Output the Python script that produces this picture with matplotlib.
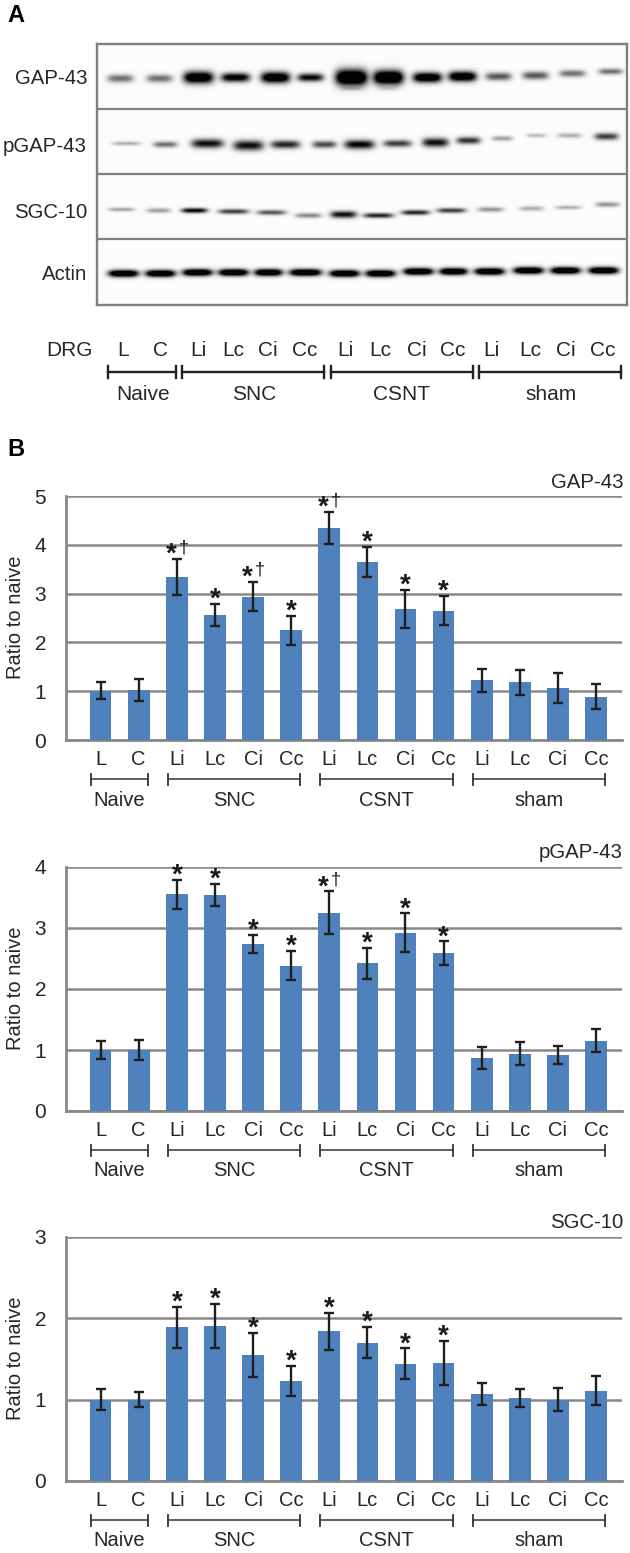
import numpy as np
import matplotlib
matplotlib.use('Agg')
import matplotlib.pyplot as plt

plt.rcParams['font.family'] = ['Liberation Sans', 'DejaVu Sans']

W, H = 630, 1553
GRID = '#888888'
BAR = '#4f81bd'
TXT = '#262626'

# lanes
lanes = ['L', 'C', 'Li', 'Lc', 'Ci', 'Cc', 'Li', 'Lc', 'Ci', 'Cc', 'Li', 'Lc', 'Ci', 'Cc']
groups = ['Naive', 'SNC', 'CSNT', 'sham']
group_first = [0, 2, 6, 10]
group_last = [1, 5, 9, 13]

# densitometry, panel B
gap_mean = [1.01, 1.02, 3.34, 2.56, 2.94, 2.25, 4.34, 3.65, 2.69, 2.65, 1.22, 1.18, 1.06, 0.89]
gap_err = [0.17, 0.23, 0.37, 0.23, 0.30, 0.30, 0.33, 0.31, 0.39, 0.30, 0.23, 0.26, 0.31, 0.26]
gap_sig = ['', '', '*†', '*', '*†', '*', '*†', '*', '*', '*', '', '', '', '']

pgap_mean = [1.00, 1.00, 3.55, 3.54, 2.74, 2.38, 3.25, 2.42, 2.92, 2.59, 0.87, 0.94, 0.92, 1.15]
pgap_err = [0.14, 0.17, 0.24, 0.18, 0.15, 0.24, 0.35, 0.25, 0.32, 0.19, 0.18, 0.19, 0.15, 0.19]
pgap_sig = ['', '', '*', '*', '*', '*', '*†', '*', '*', '*', '', '', '', '']

sgc_mean = [1.00, 1.00, 1.89, 1.91, 1.55, 1.23, 1.84, 1.70, 1.44, 1.45, 1.07, 1.02, 1.00, 1.11]
sgc_err = [0.13, 0.09, 0.25, 0.27, 0.27, 0.19, 0.23, 0.19, 0.19, 0.27, 0.14, 0.11, 0.14, 0.18]
sgc_sig = ['', '', '*', '*', '*', '*', '*', '*', '*', '*', '', '', '', '']

# blot bands, panel A (pixels); the last two GAP-43 entries are the faint lower bands
blot_names = ['GAP-43', 'pGAP-43', 'SGC-10', 'Actin']
gap_band_x = [120, 159, 198, 235, 275, 310, 351, 388, 427, 462, 498, 535, 572, 610, 351, 388]
gap_band_y = [78, 78, 77, 77, 77, 77, 77, 77, 77, 76, 76, 75, 73, 71, 88, 88]
gap_band_i = [.55, .55, 1.3, 1.1, 1.3, 1.0, 1.5, 1.5, 1.3, 1.3, .65, .65, .55, .55, .15, .12]
gap_band_w = [13, 13, 15, 14.5, 14.5, 13, 16, 15, 14.5, 14, 13, 13, 13, 12, 10, 10]
gap_band_h = [4, 4, 6, 4.5, 5.5, 4, 8, 7, 5, 5, 4, 4, 3.5, 3, 2, 2]

pgap_band_x = [126, 165, 207, 248, 285, 324, 359, 397, 435, 468, 502, 536, 569, 606]
pgap_band_y = [143, 144, 143, 145, 144, 144, 144, 143, 142, 140, 138, 135, 135, 136]
pgap_band_i = [.3, .55, .95, .95, .85, .7, 1.0, .75, .95, .8, .35, .25, .3, .75]
pgap_band_w = [14, 12, 16, 15, 14.5, 12, 15, 14, 13, 12, 10.5, 10, 12, 12]
pgap_band_h = [2, 3, 4.5, 5, 4, 3.5, 4.5, 3.5, 4.5, 3.5, 2.5, 2, 2.5, 3.5]

sgc_band_x = [121, 158, 194, 233, 271, 308, 343, 378, 415, 451, 490, 531, 568, 607]
sgc_band_y = [209, 210, 210, 211, 212, 215, 214, 215, 212, 210, 209, 208, 207, 204]
sgc_band_i = [.35, .35, 1.0, .75, .65, .45, .95, .85, .85, .75, .4, .3, .3, .4]
sgc_band_w = [13, 12, 13, 15, 14.5, 13, 13, 15, 14, 14.5, 13, 12, 13, 12]
sgc_band_h = [2, 2.5, 2.5, 2.5, 2.5, 2.5, 3.5, 2.5, 2.5, 2.5, 2.5, 2.5, 2, 2.5]

actin_band_x = [123, 160, 197, 233, 268, 305, 344, 380, 418, 453, 489, 528, 565, 603]
actin_band_y = [273, 273, 272, 272, 272, 272, 273, 273, 271, 271, 271, 270, 270, 270]
actin_band_i = [1.4] * 14
actin_band_w = [15, 15, 15, 15, 14, 16, 15, 15, 15, 14, 15, 15, 15, 15]
actin_band_h = [3.5] * 14

fig = plt.figure(figsize=(W / 100, H / 100), dpi=100)


def px_axes(x0, y0, x1, y1):
    return fig.add_axes([x0 / W, 1 - y1 / H, (x1 - x0) / W, (y1 - y0) / H])


def ftext(x, y, s, **kw):
    kw.setdefault('color', TXT)
    kw.setdefault('va', 'center')
    fig.text(x / W, 1 - y / H, s, **kw)


# ---- panel A
blot = px_axes(97, 44, 627, 305)
xx, yy = np.meshgrid(np.arange(97, 627), np.arange(44, 305))
dens = np.zeros(xx.shape)
bands = [
    (gap_band_x, gap_band_y, gap_band_i, gap_band_w, gap_band_h),
    (pgap_band_x, pgap_band_y, pgap_band_i, pgap_band_w, pgap_band_h),
    (sgc_band_x, sgc_band_y, sgc_band_i, sgc_band_w, sgc_band_h),
    (actin_band_x, actin_band_y, actin_band_i, actin_band_w, actin_band_h),
]
for bx, by, bi, bw, bh in bands:
    for x, y, i, w, h in zip(bx, by, bi, bw, bh):
        dens += i * np.exp(-((xx - x) / w) ** 4) * np.exp(-((yy - y) / h) ** 2)
img = 0.985 - np.clip(dens, 0, 0.97)
blot.imshow(img, cmap='gray', vmin=0, vmax=1, extent=(97, 627, 305, 44), aspect='auto')
blot.set_xticks([])
blot.set_yticks([])
for s in blot.spines.values():
    s.set_color('#808080')
    s.set_linewidth(1.7)
for y in [109, 174, 239]:
    blot.axhline(y, color='#808080', lw=1.6)

for name, y in zip(blot_names, [79, 147, 213, 274]):
    ftext(87, y, name, ha='right', fontsize=14.7)

ftext(16, 15, 'A', ha='center', fontsize=17, fontweight='bold', color='black')
ftext(16, 449, 'B', ha='center', fontsize=17, fontweight='bold', color='black')

lane_x = [123, 160, 198, 233, 268, 305, 345, 380, 417, 453, 491, 530, 566, 603]
ftext(69, 351, 'DRG', ha='center', fontsize=15)
for x, s in zip(lane_x, lanes):
    ftext(x, 351, s, ha='center', fontsize=15)

over = fig.add_axes([0, 0, 1, 1], facecolor='none')
over.set_xlim(0, W)
over.set_ylim(H, 0)
over.axis('off')
for name, x0, x1, xc in zip(groups, [108, 182, 331, 479], [176, 324, 473, 621], [143, 254, 402, 551]):
    over.plot([x0, x1], [372, 372], color='#222222', lw=1.7)
    over.plot([x0, x0], [366, 378], color='#222222', lw=1.7)
    over.plot([x1, x1], [366, 378], color='#222222', lw=1.7)
    ftext(xc, 394, name, ha='center', fontsize=15)


# ---- panel B
def bar_panel(top, bottom, ymax, means, errs, sigs, title):
    ax = px_axes(65.5, top, 622, bottom)
    x = np.arange(len(means))
    ax.bar(x, means, width=0.57, color=BAR, zorder=3)
    ax.errorbar(x, means, yerr=errs, fmt='none', ecolor='#1f1f1f', elinewidth=1.7,
                capsize=3.8, capthick=1.7, zorder=4)
    ax.set_xlim(-0.92, 13.68)
    ax.set_ylim(0, ymax)
    ax.set_yticks(range(ymax + 1))
    ax.grid(axis='y', color=GRID, lw=1.8, zorder=1)
    ax.set_axisbelow(True)
    ax.set_xticks(x)
    ax.set_xticklabels(lanes, fontsize=14.5, color=TXT)
    ax.tick_params(axis='x', length=0, pad=7)
    ax.tick_params(axis='y', length=0, pad=14, labelsize=15, labelcolor=TXT)
    for s in ['top', 'right']:
        ax.spines[s].set_visible(False)
    for s in ['left', 'bottom']:
        ax.spines[s].set_color(GRID)
        ax.spines[s].set_linewidth(2.0)
    ftext(16, (top + bottom) / 2 - 1, 'Ratio to naive', rotation=90, ha='center', fontsize=14.5)
    ftext(623, top - 14, title, ha='right', fontsize=14.7)

    # significance marks, the dagger sits beside the star
    for i, s in enumerate(sigs):
        if not s:
            continue
        top_i = means[i] + errs[i]
        dx = -4 if '†' in s else 0
        ax.annotate('*', xy=(i, top_i), xytext=(dx, -2), textcoords='offset points',
                    ha='center', va='baseline', fontsize=20, fontweight='bold', color='#1a1a1a',
                    annotation_clip=False, zorder=5)
        if '†' in s:
            ax.annotate('†', xy=(i, top_i), xytext=(5, 5), textcoords='offset points',
                        ha='center', va='baseline', fontsize=13, color='#1a1a1a',
                        annotation_clip=False, zorder=5)

    # group brackets under the axis
    tr = ax.get_xaxis_transform()
    hgt = bottom - top
    for name, a, b in zip(groups, group_first, group_last):
        lo, hi = a - 0.24, b + 0.24
        yb = -39 / hgt
        dy = 5.5 / hgt
        ax.plot([lo, hi], [yb, yb], color='#333333', lw=1.1, transform=tr, clip_on=False)
        ax.plot([lo, lo], [yb - dy, yb + dy], color='#333333', lw=1.3, transform=tr, clip_on=False)
        ax.plot([hi, hi], [yb - dy, yb + dy], color='#333333', lw=1.3, transform=tr, clip_on=False)
        ax.text((lo + hi) / 2, -60 / hgt, name, transform=tr, ha='center', va='center',
                fontsize=14.5, color=TXT)


bar_panel(496, 740, 5, gap_mean, gap_err, gap_sig, 'GAP-43')
bar_panel(867, 1111, 4, pgap_mean, pgap_err, pgap_sig, 'pGAP-43')
bar_panel(1237, 1481, 3, sgc_mean, sgc_err, sgc_sig, 'SGC-10')

fig.savefig('out.png', dpi=100)
